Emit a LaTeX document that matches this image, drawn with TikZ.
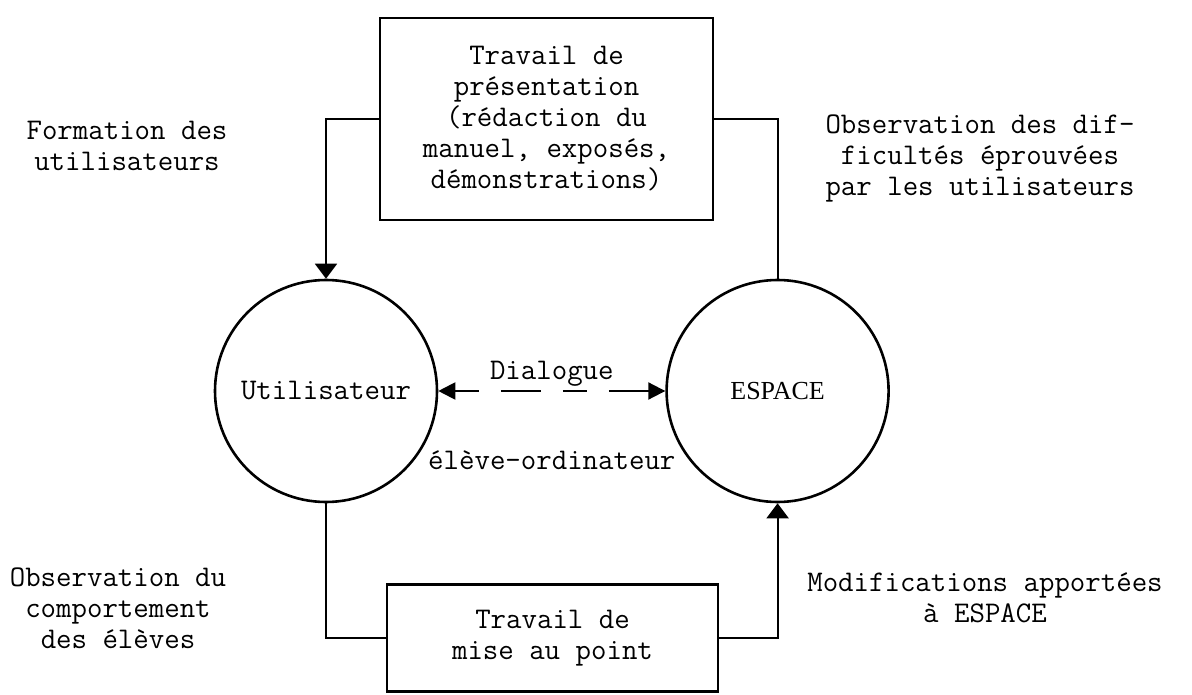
\documentclass[tikz,border=0pt]{standalone}
\usepackage{fontspec}
\newfontfamily\espacefont{Liberation Serif}
\usetikzlibrary{positioning,arrows.meta}

\begin{document}
\begin{tikzpicture}[x=1pt, y=-1pt, >={Triangle[length=15pt,width=22pt]},
    texte/.style={font=\ttfamily\fontsize{30}{31}\selectfont, align=center},
    boite/.style={draw, line width=2.6pt, texte},
    cercle/.style={draw, circle, line width=2.6pt, minimum size=222pt, texte},
    lien/.style={line width=2pt}]
        \useasboundingbox (0,0) rectangle (1192,695);

        % cercles
        \node[cercle] (util) at (326,391) {Utilisateur};
        \node[cercle, right=227pt of util] (espace) {\espacefont\fontsize{26}{26}\selectfont ESPACE};

        % boites
        \node[boite, minimum width=333pt, minimum height=202pt] (presentation) at (546.5,119)
            {Travail de\\ présentation\\ (rédaction du\\ manuel, exposés,\\ démonstrations)};
        \node[boite, minimum width=331pt, minimum height=107pt] (miseaupoint) at (552.5,638)
            {Travail de\\ mise au point};

        % textes
        \node[texte] (formation) at (127,146) {Formation des\\ utilisateurs};
        \node[texte] (obsdiff) at (980,158) {Observation des dif-\\ ficultés éprouvées\\ par les utilisateurs};
        \node[texte] (obscomp) at (118,608) {Observation du\\ comportement\\ des élèves};
        \node[texte] (modif) at (985,598) {Modifications apportées\\ à ESPACE};

        % liaisons
        \draw[->, lien] (presentation.west) -| (util.north);
        \draw[lien] (presentation.east) -| (espace.north);
        \draw[lien] (util.south) |- (miseaupoint.west);
        \draw[->, lien] (miseaupoint.east) -| (espace.south);
        \draw[{Triangle[length=17pt,width=17pt]}-{Triangle[length=17pt,width=17pt]}, lien, dash pattern=on 24pt off 22pt on 40pt off 22pt]
            (util.east) to node[above, texte] {Dialogue} node[below=55pt, texte] {élève-ordinateur} (espace.west);
    \end{tikzpicture}
\end{document}
